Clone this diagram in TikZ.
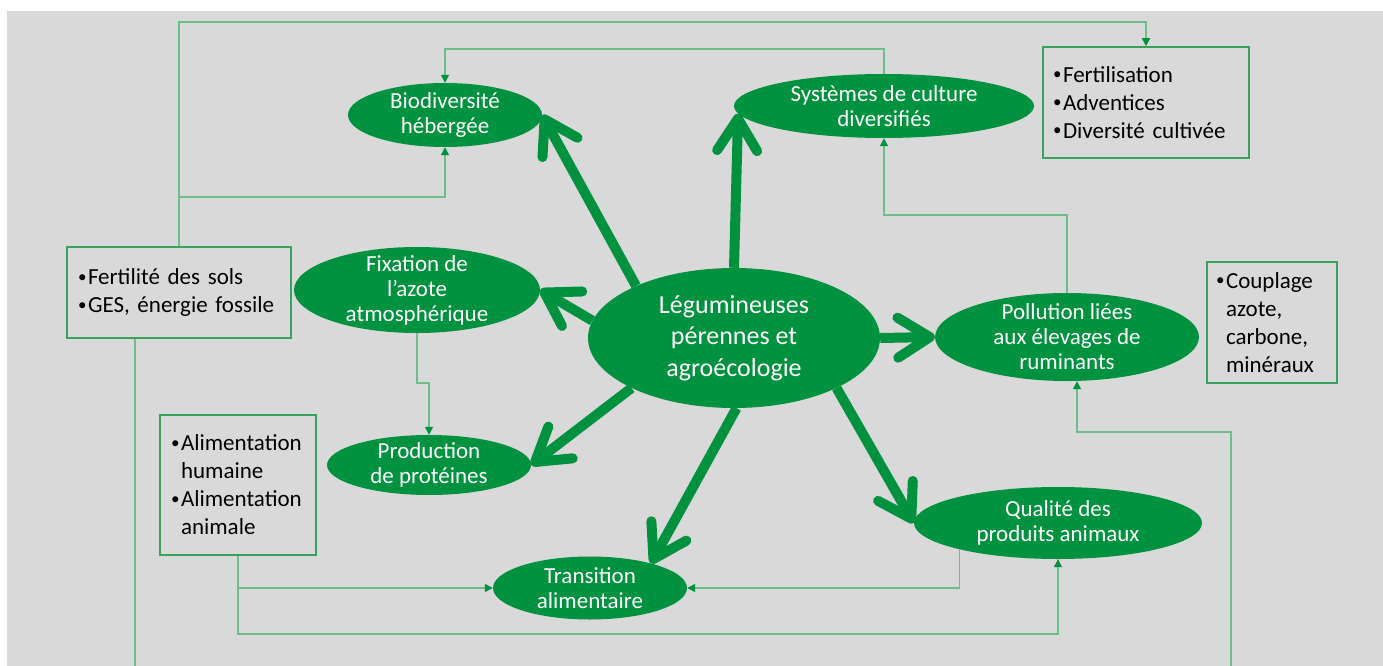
\documentclass[tikz,border=0pt]{standalone}
\usepackage{fontspec}
\setmainfont{Carlito}
\usetikzlibrary{shapes.geometric,arrows.meta}
\definecolor{egreen}{RGB}{0,146,63}
\definecolor{lgreen}{RGB}{110,190,140}
\definecolor{bgreen}{RGB}{55,163,92}
\definecolor{bggray}{RGB}{217,217,217}
\newcommand\bul{\makebox[10pt][l]{\raisebox{2.5pt}{\fontsize{17}{17}\selectfont•}}}
\newcommand\hang{\hspace*{10pt}}
\begin{document}
\begin{tikzpicture}[x=1pt,y=-1pt,
  oval/.style={ellipse, fill=egreen, draw=none, inner sep=0pt},
  etext/.style={text=white, align=center, font=\fontsize{23}{25}\selectfont, inner sep=0pt},
  mtext/.style={text=white, align=center, font=\fontsize{26}{31.5}\selectfont, inner sep=0pt},
  box/.style={draw=bgreen, line width=1.6pt, align=left, font=\fontsize{23}{28}\selectfont, inner xsep=10pt, inner ysep=0pt},
  thin/.style={draw=lgreen, line width=1.3pt, -{Triangle[length=8pt,width=8pt,color=egreen]}},
  big/.style={draw=egreen, line width=10pt, -{Straight Barb[length=32pt,width=40pt,round]}}]
\useasboundingbox (0,0) rectangle (1383,666);
\fill[white] (0,0) rectangle (1383,666);
\fill[bggray] (7,11) rectangle (1383,666);

% ellipses
\node[oval, minimum width=194pt, minimum height=64pt, label={[etext,name=biot]center:{Biodiversité\\hébergée}}] (bio) at (445,115) {};
\node[oval, minimum width=300pt, minimum height=64pt, label={[etext,name=syst]center:{Systèmes de culture\\diversifiés}}] (sys) at (884,106) {};
\node[oval, minimum width=246pt, minimum height=86pt, label={[etext,name=fixt]center:{Fixation de\\l’azote\\atmosphérique}}] (fix) at (417,290) {};
\node[oval, minimum width=292pt, minimum height=140pt, label={[mtext,name=maint]center:{Légumineuses\\pérennes et\\agroécologie}}] (main) at (734,338) {};
\node[oval, minimum width=264pt, minimum height=88pt, label={[etext,name=pollt]center:{Pollution liées\\aux élevages de\\ruminants}}] (poll) at (1067,337) {};
\node[oval, minimum width=204pt, minimum height=60pt, label={[etext,name=prodt]center:{Production\\de protéines}}] (prod) at (429,465) {};
\node[oval, minimum width=288pt, minimum height=72pt, label={[etext,name=qualt]center:{Qualité des\\produits animaux}}] (qual) at (1058,523) {};
\node[oval, minimum width=194pt, minimum height=63pt, label={[etext,name=trant]center:{Transition\\alimentaire}}] (tran) at (590,588) {};

% boxes
\node[box, text width=186pt, minimum height=111pt] (fertil) at (1146,102.5) {\bul Fertilisation\\\bul Adventices\\\bul Diversité cultivée};
\node[box, inner xsep=11pt, text width=202pt, minimum height=91pt] (fertbox) at (179,292.5) {\bul Fertilité des sols\\\bul GES, énergie fossile};
\node[box, inner xsep=11pt, text width=134pt, minimum height=140pt] (alim) at (238,485) {\bul Alimentation\\\hang humaine\\\bul Alimentation\\\hang animale};
\node[box, inner xsep=9pt, text width=112pt, minimum height=121pt] (coup) at (1272,322.5) {\bul Couplage\\\hang azote,\\\hang carbone,\\\hang minéraux};

% helper coordinates
\coordinate (topy) at (0,22);
\coordinate (midy) at (0,197);
\coordinate (y49) at (0,49);
\coordinate (y215) at (0,215);
\coordinate (y383) at (0,383);
\coordinate (lowy) at (0,634);
\coordinate (xl) at (135,0);
\coordinate (xr) at (1231,0);
\coordinate (bot) at (0,720);
\coordinate (turn) at (0,432);

% thin connectors
\draw[thin] (fertbox.north) -- (fertbox.north |- topy) -| (fertil.north);
\draw[thin] (fertbox.north) -- (fertbox.north |- midy) -| (bio.south);
\draw[thin] (sys.north) -- (sys.north |- y49) -| (bio.north);
\draw[thin] (poll.north) -- (poll.north |- y215) -| (sys.south);
\draw[thin] (fix.south) -- (fix.south |- y383) -| (prod.north);
\draw[thin] (alim.south) |- (tran.west);
\draw[thin] (alim.south) -- (alim.south |- lowy) -| (qual.south);
\draw[thin] (qual.195) |- (tran.east);
\begin{scope}
\clip (7,11) rectangle (1383,666);
\draw[thin] (fertbox.south -| xl) -- (xl |- bot) -- (xr |- bot) -- (xr |- turn) -| ([xshift=10pt]poll.south);
\end{scope}

% thick arrows
\draw[big] (main.152) -- (bio.east);
\draw[big] (main.north) -- (sys.183);
\draw[big] (main.173) -- (fix.east);
\draw[big] (main.206) -- (prod.east);
\draw[big] (main.272) -- (tran.22);
\draw[big] (main.334) -- (qual.west);
\draw[big] (main.east) -- (poll.west);
\end{tikzpicture}
\end{document}
